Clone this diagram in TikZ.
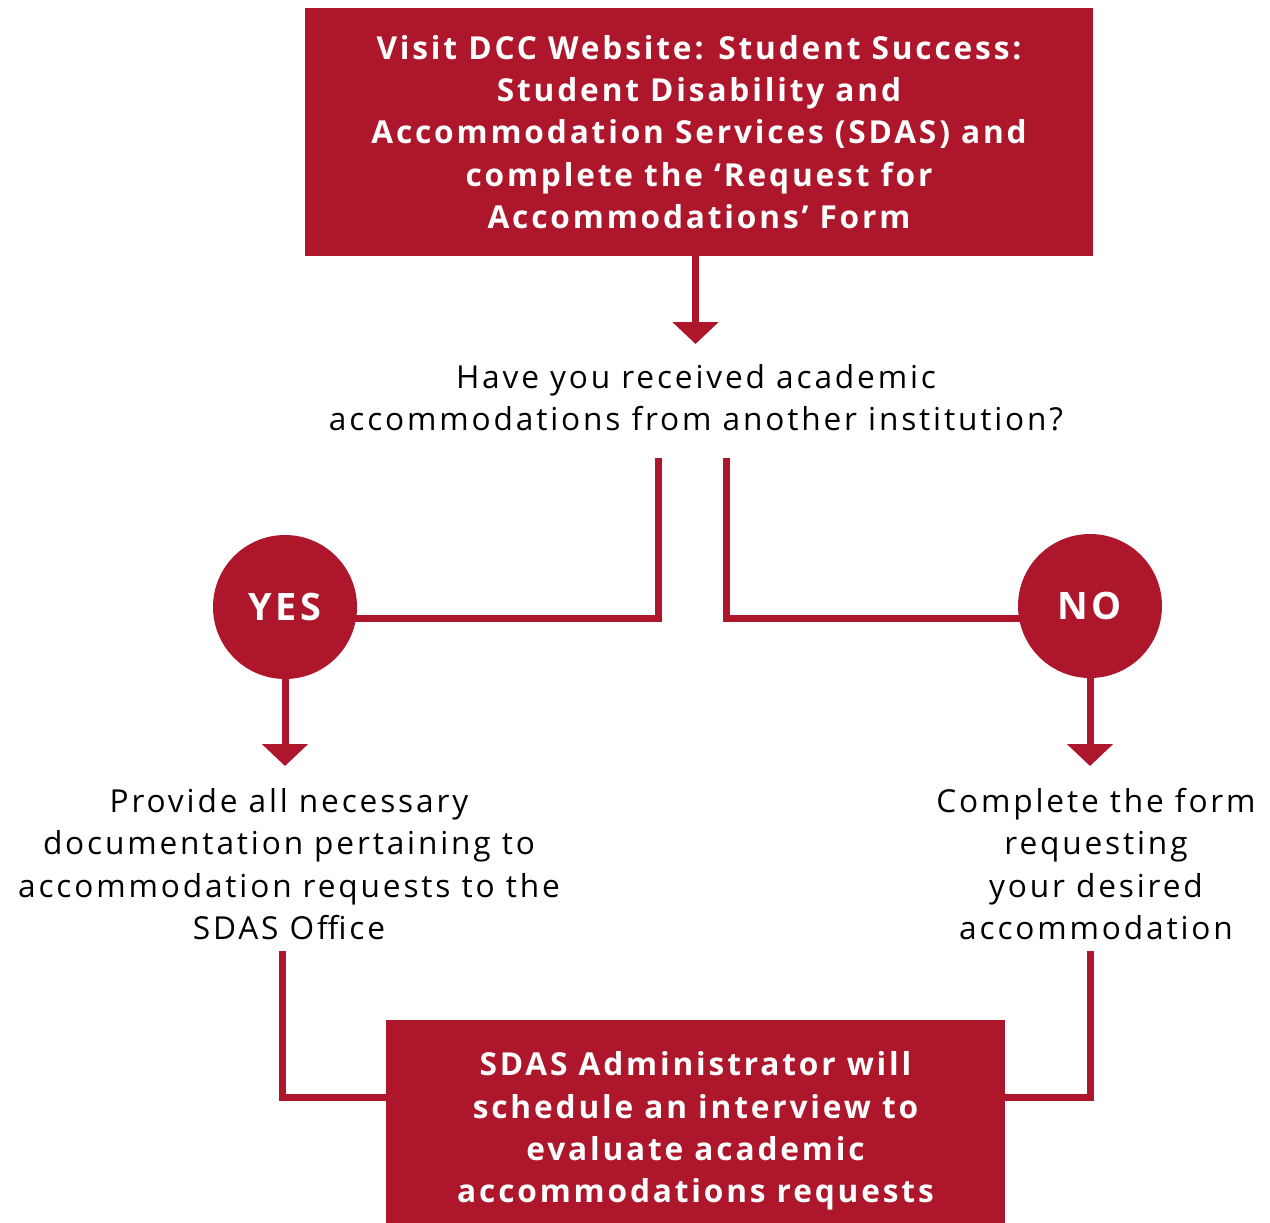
\documentclass[tikz,border=0pt]{standalone}
\usepackage{fontspec}
\setmainfont[LetterSpace=9]{Open Sans}
\usetikzlibrary{arrows.meta}
\definecolor{sdasred}{RGB}{174,22,43}
\tikzset{
	redbox/.style={fill=sdasred, text=white, font=\fontsize{18}{24.1}\selectfont\bfseries, align=center, inner sep=0pt},
	plain/.style={text=black, font=\fontsize{18}{24.1}\selectfont, align=center, inner sep=0pt},
	answer/.style={circle, fill=sdasred, text=white, minimum size=2.88cm, inner sep=0pt, font=\fontsize{21.5}{24}\selectfont\bfseries},
	link/.style={draw=sdasred, line width=0.14cm},
	arr/.style={link, -{Triangle[width=0.9cm,length=0.44cm]}}
}
\begin{document}
\begin{tikzpicture}
	\useasboundingbox (0,0) rectangle (25.4,-24.44);
	%% boxes and questions
	\node[redbox, minimum width=15.76cm, minimum height=4.96cm] (visit) at (13.98,-2.64) {Visit DCC Website: Student Success:\\Student Disability and\\Accommodation Services (SDAS) and\\complete the `Request for\\Accommodations' Form};
	\node[plain] (question) at (13.92,-7.96) {Have you received academic\\accommodations from another institution?};
	\coordinate (qtip) at (13.91,-6.88);
	\coordinate (qleft) at (13.16,-9.16);
	\coordinate (qright) at (14.52,-9.16);
	%% yes / no branches
	\draw[link] (qleft) -- (13.16,-12.37) -- (5.70,-12.37);
	\draw[link] (qright) -- (14.52,-12.37) -- (21.80,-12.37);
	\node[answer] (yes) at (5.70,-12.14) {YES};
	\node[answer] (no) at (21.80,-12.12) {NO};
	\node[plain] (provide) at (5.78,-17.28) {Provide all necessary\\documentation pertaining to\\accommodation requests to the\\SDAS Office};
	\node[plain] (complete) at (21.92,-17.28) {Complete the form\\requesting\\your desired\\accommodation};
	\coordinate (ytip) at (5.70,-15.32);
	\coordinate (ntip) at (21.80,-15.32);
	\coordinate (pbot) at (5.64,-19.02);
	\coordinate (cbot) at (21.80,-19.02);
	\node[redbox, minimum width=12.38cm, minimum height=4.44cm] (admin) at (13.91,-22.62) {SDAS Administrator will\\schedule an interview to\\evaluate academic\\accommodations requests};
	%% connectors
	\draw[arr] (visit.south -| qtip) -- (qtip);
	\draw[arr] (yes.south) -- (ytip);
	\draw[arr] (no.south) -- (ntip);
	\draw[link] (pbot) |- (admin.west |- 0,-21.94);
	\draw[link] (cbot) |- (admin.east |- 0,-21.94);
\end{tikzpicture}
\end{document}
